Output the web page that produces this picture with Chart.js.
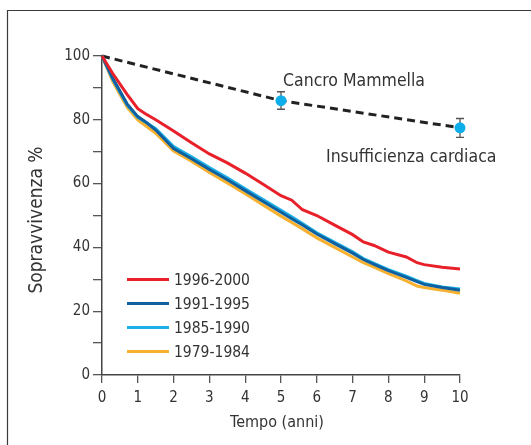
<!DOCTYPE html>
<html>
<head>
<meta charset="utf-8">
<script src="https://cdn.jsdelivr.net/npm/chart.js@4"></script>
<style>
  html, body { margin: 0; padding: 0; background: #fff; }
  #myChart { display: block; }
</style>
</head>
<body>
<canvas id="myChart" width="531" height="445"></canvas>
<script>
// anni di follow-up (asse x)
const times = [0, 0.3, 0.7, 1, 1.2, 1.5, 2, 2.5, 3, 3.5, 4, 4.5, 5, 5.3, 5.6, 6, 6.5, 7, 7.3, 7.6, 8, 8.5, 8.8, 9, 9.5, 10];

// sopravvivenza % per periodo
const surv1996 = [100, 94.5, 88, 83.5, 82, 80, 76.5, 72.8, 69.3, 66.5, 63.3, 59.8, 56.2, 54.8, 51.8, 50, 47, 44, 41.7, 40.6, 38.5, 37, 35.2, 34.6, 33.8, 33.2];
const surv1991 = [100, 93, 85, 81, 79.5, 76.8, 71, 67.8, 64.4, 61.2, 57.8, 54.4, 51, 49, 47, 44.2, 41.2, 38.2, 36.2, 34.7, 32.7, 30.6, 29.3, 28.4, 27.4, 26.6];
const surv1985 = [100, 92.7, 84.7, 80.8, 79.4, 77.2, 71.6, 68.4, 65, 61.8, 58.4, 55, 51.6, 49.6, 47.5, 44.6, 41.6, 38.6, 36.5, 35, 33, 31, 29.6, 28.7, 27.6, 27];
const surv1979 = [100, 92, 84, 80, 78.3, 75.8, 70.2, 67, 63.5, 60.2, 56.8, 53.3, 49.8, 47.8, 45.8, 43, 40, 37, 35.2, 33.8, 31.8, 29.5, 27.9, 27.4, 26.6, 25.6];

const seriesLabels = ["1996-2000", "1991-1995", "1985-1990", "1979-1984"];
const seriesColors = ["#e8202a", "#10609f", "#1cb0e8", "#f8b12f"];

// linea tratteggiata di confronto con barre d'errore
const refTimes = [0, 5, 10];
const refValues = [100, 86, 77.5];
const refLow = [null, 83.3, 74.5];
const refHigh = [null, 88.8, 80.4];

const xTicks = [0, 1, 2, 3, 4, 5, 6, 7, 8, 9, 10];
const yLabelTicks = [0, 20, 40, 60, 80, 100];

const FONT = "'Liberation Sans Narrow', 'DejaVu Sans Condensed', 'Open Sans', sans-serif";
const TEXT = "#333";

const toPoints = vals => vals.map((v, i) => ({ x: times[i], y: v }));

const extras = {
    id: "extras",
    beforeDraw(chart) {
        const ctx = chart.ctx;
        ctx.save();
        ctx.strokeStyle = "#3a3a3a";
        ctx.lineWidth = 1.2;
        ctx.beginPath();
        ctx.moveTo(7.5, 445);
        ctx.lineTo(7.5, 10.5);
        ctx.lineTo(531, 10.5);
        ctx.stroke();
        ctx.restore();
    },
    beforeDatasetsDraw(chart) {
        const ctx = chart.ctx;
        const xs = chart.scales.x, ys = chart.scales.y;
        ctx.save();
        ctx.strokeStyle = "#555";
        ctx.lineWidth = 1.3;
        refTimes.forEach((t, i) => {
            if (refLow[i] == null) return;
            const px = xs.getPixelForValue(t);
            const y1 = ys.getPixelForValue(refLow[i]);
            const y2 = ys.getPixelForValue(refHigh[i]);
            ctx.beginPath();
            ctx.moveTo(px, y1); ctx.lineTo(px, y2);
            ctx.moveTo(px - 4, y1); ctx.lineTo(px + 4, y1);
            ctx.moveTo(px - 4, y2); ctx.lineTo(px + 4, y2);
            ctx.stroke();
        });
        ctx.restore();
    },
    afterDraw(chart) {
        const ctx = chart.ctx;
        ctx.save();
        ctx.fillStyle = TEXT;

        // legenda
        ctx.font = "15.5px " + FONT;
        ctx.textBaseline = "middle";
        ctx.textAlign = "left";
        seriesLabels.forEach((lab, i) => {
            const y = 279.5 + i * 24;
            ctx.strokeStyle = seriesColors[i];
            ctx.lineWidth = 3;
            ctx.beginPath();
            ctx.moveTo(127, y); ctx.lineTo(169, y);
            ctx.stroke();
            ctx.fillText(lab, 174, y + 1);
        });

        // etichette
        ctx.font = "17.5px " + FONT;
        ctx.textBaseline = "alphabetic";
        ctx.fillText("Cancro Mammella", 283, 86);
        ctx.fillText("Insufficienza cardiaca", 326, 161.5);

        // titoli assi
        ctx.font = "16px " + FONT;
        ctx.textAlign = "center";
        ctx.textBaseline = "middle";
        ctx.fillText("Tempo (anni)", 277, 423);
        ctx.font = "19px " + FONT;
        ctx.translate(37, 220);
        ctx.rotate(-Math.PI / 2);
        ctx.fillText("Sopravvivenza %", 0, 0);
        ctx.restore();
    }
};

const ctx = document.getElementById("myChart").getContext("2d");

new Chart(ctx, {
    type: "line",
    data: {
        datasets: [
            ...seriesLabels.map((lab, i) => ({
                label: lab,
                data: toPoints([surv1996, surv1991, surv1985, surv1979][i]),
                borderColor: seriesColors[i],
                borderWidth: 3,
                pointRadius: 0,
                tension: 0,
                clip: false
            })),
            {
                label: "ref",
                data: refValues.map((v, i) => ({ x: refTimes[i], y: v })),
                borderColor: "#222",
                borderWidth: 3,
                borderDash: [8, 5],
                pointRadius: [0, 5.5, 5.5],
                pointBackgroundColor: "#0eaeea",
                pointBorderWidth: 0,
                clip: false
            }
        ]
    },
    options: {
        responsive: false,
        animation: false,
        layout: { padding: { top: 56, right: 71, bottom: 0, left: 0 } },
        plugins: {
            legend: { display: false },
            tooltip: { enabled: false }
        },
        scales: {
            x: {
                type: "linear",
                min: 0,
                max: 10,
                afterBuildTicks: s => { s.ticks = xTicks.map(v => ({ value: v })); },
                afterFit: s => { s.height = 70; },
                ticks: { color: TEXT, font: { family: FONT, size: 15 }, padding: 6, maxRotation: 0 },
                grid: { drawOnChartArea: false, tickLength: 8, color: "#555", lineWidth: 1.3 },
                border: { color: "#444", width: 1.5 }
            },
            y: {
                min: 0,
                max: 100,
                ticks: {
                    stepSize: 10,
                    color: TEXT,
                    font: { family: FONT, size: 15 },
                    padding: 3,
                    callback: v => yLabelTicks.includes(v) ? v : ""
                },
                afterFit: s => { s.width = 102; },
                grid: { drawOnChartArea: false, tickLength: 9, color: "#555", lineWidth: 1.3 },
                border: { color: "#444", width: 1.5 }
            }
        }
    },
    plugins: [extras]
});
</script>
</body>
</html>
